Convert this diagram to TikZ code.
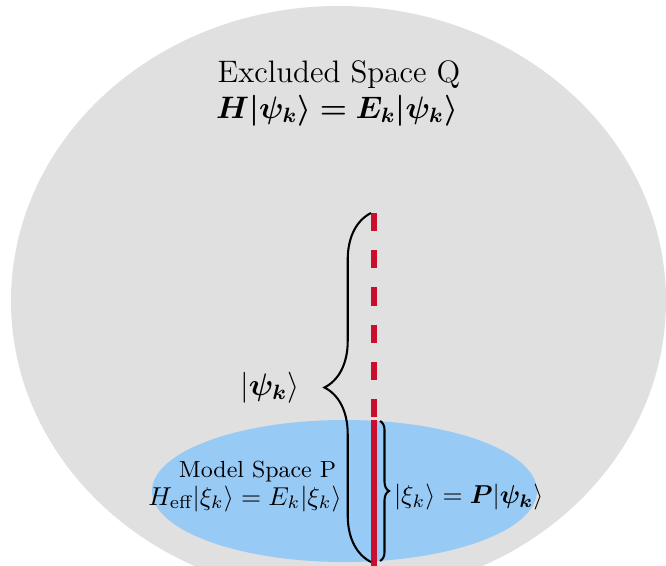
\documentclass[tikz,border=0pt]{standalone}
\usepackage{amsmath,bm}
\usetikzlibrary{decorations.pathreplacing}

\definecolor{qgray}{RGB}{224,224,224}
\definecolor{pblue}{RGB}{152,202,246}
\definecolor{statered}{RGB}{200,16,46}

\begin{document}
\begin{tikzpicture}[
  x=0.3866pt,y=-0.3866pt,
  bigbrace/.style={decorate,decoration={brace,amplitude=18pt},thick},
  smallbrace/.style={decorate,decoration={brace,amplitude=3.5pt},thick},
  statepath/.style={statered,line width=2.2pt},
  spacelabel/.style={anchor=base,inner sep=0pt}
]
  \clip (0,0) rectangle (666,565);

  % the two spaces
  \fill[qgray] (338.5,301) ellipse [x radius=327.5,y radius=295];
  \fill[pblue] (344.5,491) ellipse [x radius=192.5,y radius=71];

  \node[spacelabel,font=\large] (qname) at (339,83) {Excluded Space Q};
  \node[spacelabel,font=\large] (qeq) at (337,118) {$\bm{H|\psi_k\rangle = E_k|\psi_k\rangle}$};
  \node[spacelabel,font=\small] (pname) at (257.5,477) {Model Space P};
  \node[spacelabel] (peq) at (245,505) {$H_{\text{eff}}|\xi_k\rangle = E_k|\xi_k\rangle$};

  % the state, dashed outside P
  \coordinate (dashtop) at (374,213);
  \coordinate (dashend) at (374,418);
  \coordinate (solidtop) at (374,420);
  \coordinate (solidend) at (374,570);
  \draw[statepath,dash pattern=on 7pt off 7.4pt] (dashtop) -- (dashend);
  \draw[statepath] (solidtop) -- (solidend);

  % braces
  \coordinate (psitop) at (371,213);
  \coordinate (psibot) at (371,562);
  \coordinate (xitop) at (380,421);
  \coordinate (xibot) at (380,561);
  \draw[bigbrace] (psibot) -- node[left=24pt,font=\large] (psi) {$|\bm{\psi_k}\rangle$} (psitop);
  \draw[smallbrace] (xitop) -- node[right=1.7pt,yshift=-2.5pt] (xi) {$|\xi_k\rangle = \bm{P}|\bm{\psi_k}\rangle$} (xibot);
\end{tikzpicture}
\end{document}
